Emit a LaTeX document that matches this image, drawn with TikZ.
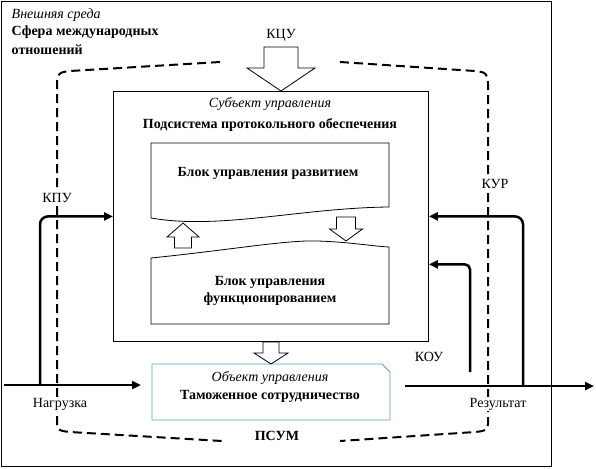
\documentclass[tikz,border=0pt]{standalone}
\usepackage{fontspec}
\setmainfont{Liberation Serif}
\usetikzlibrary{arrows.meta}

\begin{document}
\begin{tikzpicture}[x=1pt, y=-1pt, line width=0.8pt,
  every node/.style={font=\fontsize{14}{17}\selectfont},
  bf/.style={font=\fontsize{14}{17}\selectfont\bfseries},
  it/.style={font=\fontsize{14}{17}\selectfont\itshape},
  tag/.style={fill=white, inner sep=1pt},
  flow/.style={line width=2.5pt, rounded corners=8pt,
               -{Triangle[length=9pt,width=8pt]}},
  psum/.style={line width=2pt, dash pattern=on 9pt off 5pt}]

\useasboundingbox (0,0) rectangle (596,468);

% The outer frame and the texts of the environment.
\draw (1,1) rectangle (551,466);
\node[it, anchor=west] (env) at (8,15) {Внешняя среда};
\node[bf, anchor=north west, align=left,
      font=\fontsize{14}{19}\selectfont\bfseries] (sphere) at (8,22)
  {Сфера международных\\отношений};

% Dashed contour of the system, drawn early so that labels sit on it.
\draw[psum]
  (220,62) -- (70,71) .. controls (59,72) and (57,74) .. (57,84)
  -- (57,424) .. controls (57,430) and (60,431) .. (70,432) -- (222,441)
  (340,62) -- (475,71) .. controls (486,72) and (488,74) .. (488,84)
  -- (488,424) .. controls (488,430) and (485,431) .. (475,432) -- (340,441)
;

% Subject of management with its two blocks.
\node[draw, anchor=north west, minimum width=315, minimum height=250,
      inner sep=0] (subject) at (113,91) {};
\node[it] (subjtitle) at (270,104) {Субъект управления};
\node[bf] (subsys) at (270,125) {Подсистема протокольного обеспечения};

\draw (151,218) -- (151,143) -- (389,143) -- (389,207)
  .. controls (300,208) and (220,230) .. (151,218);
\draw (151,258) .. controls (230,250) and (285,240) .. (317,241)
  .. controls (350,242) and (370,246) .. (389,247)
  -- (389,324) -- (151,324) -- cycle;
\node[bf] (dev) at (268,173) {Блок управления развитием};
\node[bf, align=center] (func) at (270,291)
  {Блок управления\\функционированием};

% Object of management, the one blue box.
\definecolor{objblue}{RGB}{91,155,213}
\draw[objblue] (152,364) -- (382,364) -- (390,372) -- (390,420)
  -- (152,420) -- cycle;
\node[it] (objtitle) at (270,378) {Объект управления};
\node[bf] (customs) at (270,396) {Таможенное сотрудничество};

% Hollow block arrows: x, shaft end, head base, tip, half widths.
\foreach \x/\ya/\yb/\yc/\s/\h in {
   281/47/68/91/17/34, 346/217/229/241/9.5/16.5,
   183/248/237/223/8.5/16, 271/342/353/364/8/17
}
  \filldraw[fill=white] ({\x-\s},\ya) -- ({\x-\s},\yb) -- ({\x-\h},\yb)
    -- (\x,\yc) -- ({\x+\h},\yb) -- ({\x+\s},\yb) -- ({\x+\s},\ya) -- cycle;

% Thick flows in and out.
\coordinate (load) at (4,385);
\coordinate (loadend) at (141,385);
\coordinate (kpu) at (40,385);
\coordinate (res) at (405,386);
\coordinate (resend) at (594,386);
\coordinate (kur) at (523,386);
\coordinate (kou) at (470,372);

\draw[flow] (load) -- (loadend);
\draw[flow] (kpu) |- (subject.west);
\draw[flow] (res) -- (resend);
\draw[flow] (kur) |- (subject.east);
\draw[flow, rounded corners=5pt] (kou) |- ([yshift=-48pt]subject.east);

% Labels of the flows.
\node (kcu) at (281,35) {КЦУ};
\node[tag] (kpulabel) at (57,198) {КПУ};
\node[tag] (kurlabel) at (495,184) {КУР};
\node (koulabel) at (429,357) {КОУ};
\node[tag] (loadlabel) at (60,404) {Нагрузка};
\node[tag] (reslabel) at (498,404) {Результат};
\node[bf, tag] (psumlabel) at (277,436) {ПСУМ};
\end{tikzpicture}
\end{document}
